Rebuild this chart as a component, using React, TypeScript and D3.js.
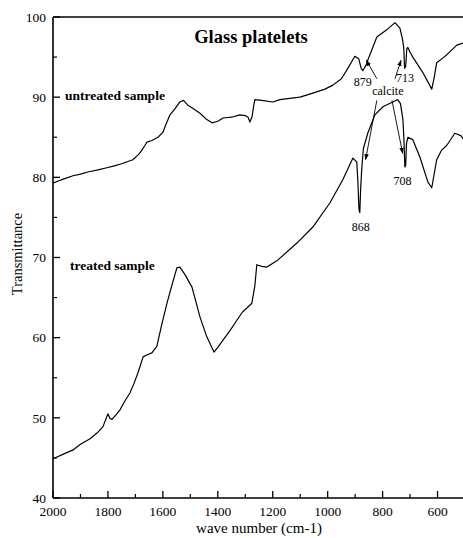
import * as d3 from "d3";

// wavenumbers (cm-1) and transmittance
const untreatedW = [2000, 1960, 1927, 1900, 1870, 1840, 1804, 1780, 1750, 1725, 1709, 1690, 1680, 1665, 1658, 1640, 1618, 1600, 1590, 1574, 1555, 1538, 1525, 1509, 1490, 1465, 1440, 1421, 1400, 1381, 1350, 1320, 1300, 1290, 1283, 1275, 1270, 1265, 1240, 1200, 1174, 1101, 1054, 1010, 981, 950, 930, 901, 887, 878, 872, 860, 854, 821, 785, 755, 737, 728, 723, 720, 716, 712, 708, 700, 690, 654, 621, 612, 603, 580, 566, 545, 530, 500];
const untreatedV = [79.3, 79.8, 80.2, 80.4, 80.7, 80.9, 81.2, 81.4, 81.7, 82.0, 82.2, 82.8, 83.2, 84.0, 84.4, 84.6, 85.0, 85.6, 86.5, 87.8, 88.6, 89.4, 89.6, 89.0, 88.6, 88.0, 87.2, 86.8, 87.0, 87.4, 87.5, 87.8, 87.7, 87.5, 86.9, 87.6, 88.8, 89.7, 89.6, 89.4, 89.7, 90.0, 90.5, 91.0, 91.5, 92.3, 93.4, 95.1, 94.8, 93.6, 93.3, 94.0, 94.6, 97.5, 98.4, 99.3, 98.6, 97.3, 96.2, 93.6, 93.8, 96.0, 96.2, 95.6, 95.0, 93.1, 91.0, 92.5, 94.3, 94.9, 95.3, 96.0, 96.5, 96.8];

const treatedW = [2000, 1960, 1927, 1900, 1865, 1840, 1818, 1800, 1792, 1785, 1770, 1756, 1740, 1720, 1705, 1691, 1672, 1655, 1640, 1622, 1605, 1585, 1565, 1549, 1538, 1520, 1494, 1465, 1440, 1414, 1400, 1381, 1355, 1330, 1310, 1294, 1276, 1265, 1258, 1240, 1221, 1181, 1112, 1054, 992, 945, 908, 894, 890, 886, 883, 880, 876, 870, 854, 828, 799, 763, 745, 735, 726, 722, 719, 716, 713, 708, 690, 664, 635, 621, 603, 585, 566, 537, 515, 500];
const treatedV = [44.9, 45.5, 46.0, 46.7, 47.4, 48.1, 48.9, 50.5, 49.9, 49.8, 50.4, 51.0, 52.0, 53.1, 54.3, 55.6, 57.6, 57.9, 58.1, 58.9, 61.5, 64.3, 66.8, 68.7, 68.8, 67.9, 66.3, 62.6, 60.1, 58.2, 58.8, 59.7, 60.9, 62.2, 63.2, 63.7, 64.3, 66.5, 69.1, 68.9, 68.8, 69.7, 71.8, 73.8, 76.8, 79.7, 82.4, 81.9, 79.5, 76.0, 75.6, 78.5, 81.0, 83.6, 85.5, 87.8, 88.8, 89.4, 89.7, 89.2, 87.2, 84.5, 81.3, 81.5, 84.2, 85.0, 84.7, 82.5, 79.4, 78.7, 82.2, 83.4, 84.0, 85.5, 85.2, 84.5];

const xMajor = [2000, 1800, 1600, 1400, 1200, 1000, 800, 600];
const xMinor = [1900, 1700, 1500, 1300, 1100, 900, 700];
const yMajor = [40, 50, 60, 70, 80, 90, 100];
const yMinor = [45, 55, 65, 75, 85, 95];

// band labels: [text, wavenumber, transmittance]
const bandLabels: [string, number, number][] = [
  ["879", 872, 91.4],
  ["713", 718, 91.9],
  ["calcite", 781, 90.3],
  ["868", 880, 73.3],
  ["708", 728, 79.1],
];

// calcite arrows: [fromW, fromV, toW, toV]
const arrows: [number, number, number, number][] = [
  [821, 92.3, 859, 94.6],
  [755, 92.3, 733, 94.6],
  [821, 89.6, 862, 82.2],
  [766, 89.6, 727, 83.0],
];

const W = 463;
const H = 538;
const serif = "'Liberation Serif', 'DejaVu Serif', serif";

export default function App() {
  const x = d3.scaleLinear().domain([2000, 500]).range([53, 465]);
  const y = d3.scaleLinear().domain([40, 100]).range([498, 17]);

  const line = d3
    .line<[number, number]>()
    .x((d) => x(d[0]))
    .y((d) => y(d[1]));

  const untreated = untreatedW.map((w, i) => [w, untreatedV[i]] as [number, number]);
  const treated = treatedW.map((w, i) => [w, treatedV[i]] as [number, number]);

  return (
    <svg
      width={W}
      height={H}
      style={{ position: "absolute", left: 0, top: 0, background: "#fff" }}
      fontFamily={serif}
    >
      <defs>
        <marker id="head" viewBox="0 0 10 10" refX="9" refY="5" markerWidth="7" markerHeight="7" orient="auto">
          <path d="M0,1.5 L10,5 L0,8.5 Z" fill="#000" />
        </marker>
      </defs>

      {/* frame */}
      <line x1={x(2000)} x2={x(2000)} y1={y(40)} y2={y(100)} stroke="#000" strokeWidth={1.6} />
      <line x1={x(2000)} x2={W} y1={y(40)} y2={y(40)} stroke="#000" strokeWidth={1.6} />
      <line x1={x(2000)} x2={W} y1={y(100)} y2={y(100)} stroke="#000" strokeWidth={1.4} />

      {xMajor.map((t) => (
        <g key={"xM" + t}>
          <line x1={x(t)} x2={x(t)} y1={y(40)} y2={y(40) - 7} stroke="#000" strokeWidth={1.3} />
          <text x={x(t)} y={y(40) + 18} textAnchor="middle" fontSize={13.5}>
            {t}
          </text>
        </g>
      ))}
      {xMinor.map((t) => (
        <line key={"xm" + t} x1={x(t)} x2={x(t)} y1={y(40)} y2={y(40) - 4} stroke="#000" strokeWidth={1.2} />
      ))}
      {yMajor.map((t) => (
        <g key={"yM" + t}>
          <line x1={x(2000)} x2={x(2000) + 7} y1={y(t)} y2={y(t)} stroke="#000" strokeWidth={1.3} />
          <text x={46} y={y(t)} dy="0.35em" textAnchor="end" fontSize={13.5}>
            {t}
          </text>
        </g>
      ))}
      {yMinor.map((t) => (
        <line key={"ym" + t} x1={x(2000)} x2={x(2000) + 4} y1={y(t)} y2={y(t)} stroke="#000" strokeWidth={1.2} />
      ))}

      <path d={line(untreated) ?? ""} fill="none" stroke="#000" strokeWidth={1.2} strokeLinejoin="round" />
      <path d={line(treated) ?? ""} fill="none" stroke="#000" strokeWidth={1.2} strokeLinejoin="round" />

      {arrows.map((a, i) => (
        <line
          key={"a" + i}
          x1={x(a[0])}
          y1={y(a[1])}
          x2={x(a[2])}
          y2={y(a[3])}
          stroke="#000"
          strokeWidth={0.9}
          markerEnd="url(#head)"
        />
      ))}

      {bandLabels.map(([txt, w, v]) => (
        <text key={txt} x={x(w)} y={y(v)} textAnchor="middle" fontSize={12}>
          {txt}
        </text>
      ))}

      <text x={251} y={43} textAnchor="middle" fontSize={18.5} fontWeight="bold">
        Glass platelets
      </text>
      <text x={65} y={100} fontSize={13.5} fontWeight="bold">
        untreated sample
      </text>
      <text x={70} y={270} fontSize={13.5} fontWeight="bold">
        treated sample
      </text>

      <text x={259} y={533} textAnchor="middle" fontSize={15}>
        wave number (cm-1)
      </text>
      <text transform="translate(22, 254) rotate(-90)" textAnchor="middle" fontSize={14.5}>
        Transmittance
      </text>
    </svg>
  );
}
